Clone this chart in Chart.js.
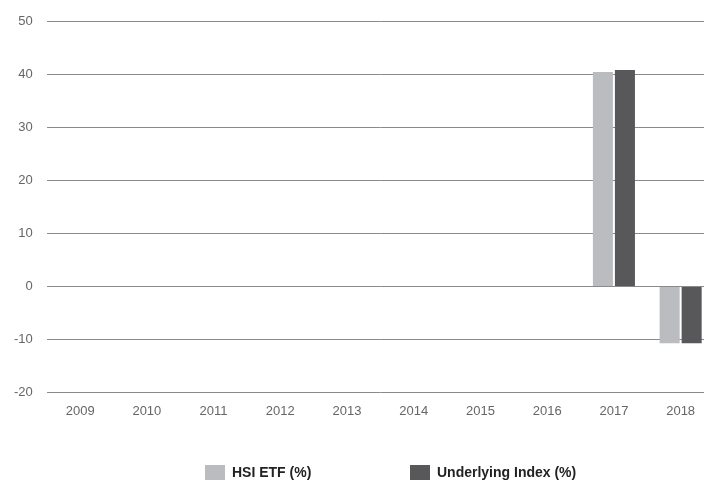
<!DOCTYPE html>
<html><head><meta charset="utf-8">
<script src="https://cdn.jsdelivr.net/npm/chart.js@4/dist/chart.umd.min.js"></script>
<style>
html,body{margin:0;padding:0;background:#fff;overflow:hidden;}
#wrap{width:714px;height:484px;position:relative;}
</style></head>
<body>
<div id="wrap"><canvas id="c"></canvas></div>
<script>
const categories = ["2009","2010","2011","2012","2013","2014","2015","2016","2017","2018"];
const hsiEtf = [null,null,null,null,null,null,null,null,40.5,-10.7];
const underlyingIndex = [null,null,null,null,null,null,null,null,40.9,-10.7];
const seriesNames = ["HSI ETF (%)","Underlying Index (%)"];
const yMin = -20, yMax = 50, yStep = 10;

const FONT = 'Liberation Sans, Arial, sans-serif';

const bottomLegend = {
  id: 'bottomLegend',
  afterDraw(chart) {
    const ctx = chart.ctx;
    const startX = [205, 410];
    const boxY = 465, boxW = 20, boxH = 15;
    ctx.save();
    ctx.font = 'bold 14px ' + FONT;
    ctx.textBaseline = 'middle';
    ctx.textAlign = 'left';
    chart.data.datasets.forEach((ds, i) => {
      ctx.fillStyle = ds.backgroundColor;
      ctx.fillRect(startX[i], boxY, boxW, boxH);
      ctx.fillStyle = '#222';
      ctx.fillText(ds.label, startX[i] + boxW + 7, boxY + boxH / 2 + 1);
    });
    ctx.restore();
  }
};

new Chart(document.getElementById('c'), {
  type: 'bar',
  data: {
    labels: categories,
    datasets: [
      {label: seriesNames[0], data: hsiEtf, backgroundColor: '#bbbcc0'},
      {label: seriesNames[1], data: underlyingIndex, backgroundColor: '#58585a'}
    ]
  },
  plugins: [bottomLegend],
  options: {
    responsive: true,
    maintainAspectRatio: false,
    animation: false,
    devicePixelRatio: 1,
    categoryPercentage: 0.66,
    barPercentage: 0.91,
    layout: {padding: {top: 12, left: 0, right: 0, bottom: 54}},
    plugins: {
      tooltip: {enabled: false},
      legend: {display: false}
    },
    scales: {
      x: {
        grid: {display: false, drawTicks: false},
        border: {display: false},
        ticks: {color: '#666', padding: 11, font: {family: FONT, size: 13}}
      },
      y: {
        min: yMin, max: yMax,
        ticks: {stepSize: yStep, color: '#666', padding: 14, font: {family: FONT, size: 13}},
        grid: {color: '#8a8a8a', lineWidth: 1, drawTicks: false},
        border: {display: false}
      }
    }
  }
});
</script>
</body></html>
